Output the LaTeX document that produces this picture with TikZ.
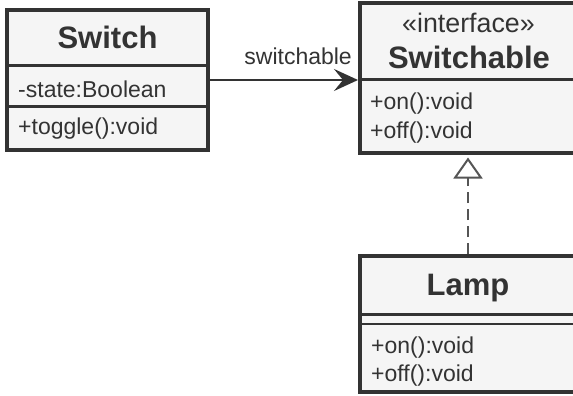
\documentclass[tikz,border=0pt]{standalone}
\usepackage{fontspec}
\setmainfont{Liberation Sans}
\usetikzlibrary{arrows.meta}
\definecolor{ink}{HTML}{333333}
\definecolor{boxfill}{HTML}{F5F5F5}
\definecolor{dashgray}{HTML}{555555}
\begin{document}
\begin{tikzpicture}[x=1pt,y=-1pt,
  classbox/.style={draw=ink, fill=boxfill, line width=4pt, rectangle, inner sep=0pt},
  divider/.style={draw=ink, line width=2.5pt},
  title/.style={inner sep=0pt, text=ink, font=\fontsize{31}{37}\selectfont\bfseries},
  stereo/.style={inner sep=0pt, text=ink, font=\fontsize{26.8}{32}\selectfont},
  member/.style={inner sep=0pt, text=ink, font=\fontsize{23}{28}\selectfont},
  assoc/.style={draw=ink, line width=2pt, -{Stealth[length=24pt,width=22pt,inset=9pt]}},
  realize/.style={draw=dashgray, line width=2pt, dash pattern=on 11pt off 6pt,
    -{Triangle[open, length=21pt, width=29pt, fill=white]}}
]
\useasboundingbox (0,0) rectangle (573,396);
\clip (0,0) rectangle (573,396);
\fill[white] (0,0) rectangle (573,396);

% Switch class
\node[classbox, minimum width=201pt, minimum height=140pt] (switch) at (107.5,80) {};
\draw[divider] ([yshift=-57.5pt]switch.north west) -- ([yshift=-57.5pt]switch.north east);
\draw[divider] ([yshift=-98.5pt]switch.north west) -- ([yshift=-98.5pt]switch.north east);
\node[title, anchor=base] (switchT) at (107.5,48.5) {Switch};
\node[member, anchor=base west] (switchA) at (18,97) {-state:Boolean};
\node[member, anchor=base west] (switchM) at (18,134) {+toggle():void};

% Switchable interface
\node[classbox, minimum width=240pt, minimum height=149pt] (switchable) at (480,78) {};
\draw[divider] ([yshift=-78pt]switchable.north west) -- ([yshift=-78pt]switchable.north east);
\node[stereo, anchor=base] (switchableS) at (468.5,33) {«interface»};
\node[title, anchor=base] (switchableT) at (469,69) {Switchable};
\node[member, anchor=base west] (switchableM1) at (370,110) {+on():void};
\node[member, anchor=base west] (switchableM2) at (370,138) {+off():void};

% Lamp class
\node[classbox, minimum width=240pt, minimum height=136pt] (lamp) at (480,324) {};
\draw[divider] ([yshift=-60.5pt]lamp.north west) -- ([yshift=-60.5pt]lamp.north east);
\draw[divider] ([yshift=-70pt]lamp.north west) -- ([yshift=-70pt]lamp.north east);
\node[title, anchor=base] (lampT) at (468,295) {Lamp};
\node[member, anchor=base west] (lampM1) at (371,353) {+on():void};
\node[member, anchor=base west] (lampM2) at (371,381) {+off():void};

% association
\draw[assoc] (switch.east) -- (switch.east -| switchable.west);
\node[member, anchor=base east] (assocL) at (352,65) {switchable};

% realization
\draw[realize, shorten >=3pt] (lampT |- lamp.north) -- (lampT |- switchable.south);
\end{tikzpicture}
\end{document}
